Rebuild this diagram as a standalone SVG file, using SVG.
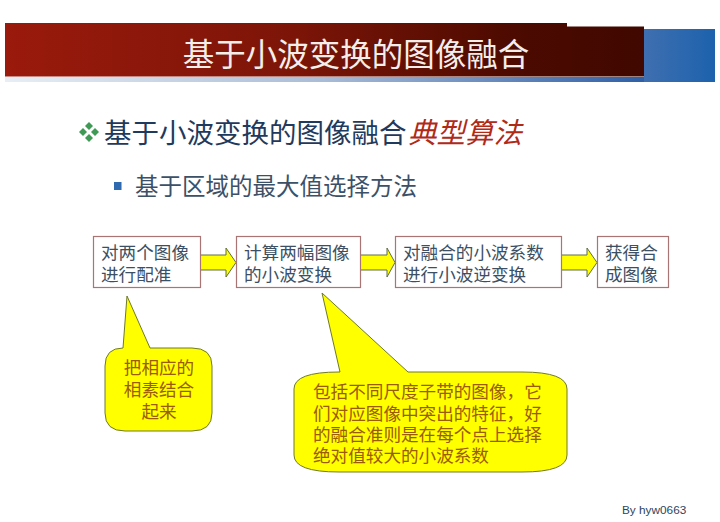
<svg xmlns="http://www.w3.org/2000/svg" width="720" height="522" viewBox="0 0 720 522">
<defs>
<linearGradient id="red" x1="0" y1="0" x2="1" y2="0"><stop offset="0" stop-color="#9a1a0c"/><stop offset="0.45" stop-color="#7c1508"/><stop offset="0.8" stop-color="#4c0a00"/><stop offset="1" stop-color="#400800"/></linearGradient>
<linearGradient id="blue" x1="0" y1="0" x2="1" y2="0"><stop offset="0" stop-color="#3f6fb0"/><stop offset="1" stop-color="#1c62ad"/></linearGradient>
<linearGradient id="strip" x1="0" y1="0" x2="1" y2="0"><stop offset="0" stop-color="#e8eef4"/><stop offset="0.5" stop-color="#a9bbd6"/><stop offset="1" stop-color="#2f5fa6"/></linearGradient>
</defs>
<style>
text{font-family:"Noto Sans CJK SC","Liberation Sans",sans-serif}
.box{fill:#fff;stroke:#a87474;stroke-width:1.2}
.t{font-size:17.6px;fill:#3c4f63}
.c{font-size:17.6px;fill:#9a5c00}
.call{fill:#ffff00;stroke:#6f7a2a;stroke-width:1}
.arrow{fill:#ffff00;stroke:#5f6f40;stroke-width:1}
</style>
<rect width="720" height="522" fill="#fff"/>
<g id="header">
<rect x="644" y="29" width="71" height="53" fill="url(#blue)"/>
<rect x="5" y="77" width="639" height="5" fill="url(#strip)"/>
<path d="M5 23H567V26.500H644V76.500H5Z" fill="url(#red)"/>
<text x="356" y="66" text-anchor="middle" font-size="31.500" fill="#f4eeea">基于小波变换的图像融合</text>
</g>
<g id="headings">
<g fill="#3f9a55"><path d="M89 122l4 4-4 4-4-4Z"/><path d="M89 134l4 4-4 4-4-4Z"/><path d="M83 128l4 4-4 4-4-4Z"/><path d="M95 128l4 4-4 4-4-4Z"/></g>
<text x="104" y="143" font-size="27.500" fill="#1f3a5c">基于小波变换的图像融合</text>
<text x="408" y="143" font-size="28.500" font-style="italic" fill="#b02a18">典型算法</text>
<rect x="114" y="182" width="7.500" height="8" fill="#2f69b0"/>
<text x="135" y="195" font-size="23.500" fill="#3c5168">基于区域的最大值选择方法</text>
</g>
<g id="connectors">
<path class="arrow" d="M200 255H226V248L236 262.500L226 277V270H200Z"/>
<path class="arrow" d="M360 255H387V248L395 262.500L387 277V270H360Z"/>
<path class="arrow" d="M561 255H587V248L597 262.500L587 277V270H561Z"/>
</g>
<g id="node-register"><rect class="box" x="93.500" y="236.500" width="107" height="51"/>
<text class="t" x="101" y="259">对两个图像</text><text class="t" x="101" y="281">进行配准</text></g>
<g id="node-transform"><rect class="box" x="236.500" y="236.500" width="124" height="51"/>
<text class="t" x="244" y="259">计算两幅图像</text><text class="t" x="244" y="281">的小波变换</text></g>
<g id="node-inverse"><rect class="box" x="395.500" y="236.500" width="166" height="51"/>
<text class="t" x="403" y="259">对融合的小波系数</text><text class="t" x="403" y="281">进行小波逆变换</text></g>
<g id="node-result"><rect class="box" x="597.500" y="236.500" width="71" height="51"/>
<text class="t" x="605" y="259">获得合</text><text class="t" x="605" y="281">成图像</text></g>
<g id="callout-1">
<path class="call" d="M127 296L150 348H192Q212 348 212 366V413Q212 431 192 431H125Q105 431 105 413V366Q105 348 123 348Z"/>
<text class="c" x="159" y="374" text-anchor="middle">把相应的</text>
<text class="c" x="159" y="396" text-anchor="middle">相素结合</text>
<text class="c" x="159" y="418" text-anchor="middle">起来</text>
</g>
<g id="callout-2">
<path class="call" d="M322 293L408 372H522Q567 372 567 389V455Q567 472 522 472H339Q294 472 294 455V389Q294 372 339 372H340Z"/>
<text class="c" x="313" y="398">包括不同尺度子带的图像，它</text>
<text class="c" x="313" y="420">们对应图像中突出的特征，好</text>
<text class="c" x="313" y="441">的融合准则是在每个点上选择</text>
<text class="c" x="313" y="462">绝对值较大的小波系数</text>
</g>
<text x="622" y="514" font-size="11.800" style="font-family:'Liberation Sans',sans-serif" fill="#2f4560">By hyw0663</text>
</svg>
